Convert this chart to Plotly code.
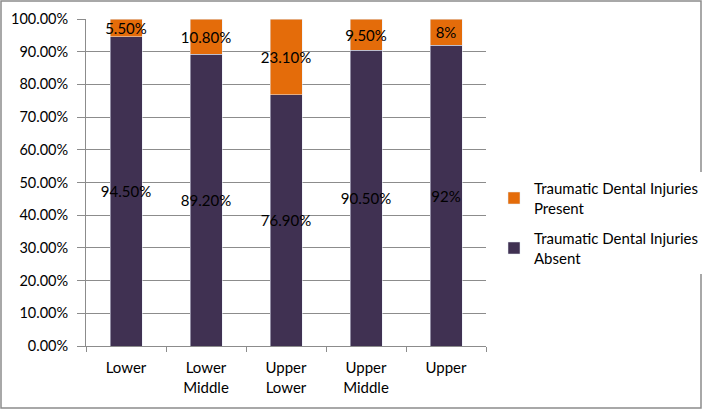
import plotly.graph_objects as go

categories = ["Lower", "Lower<br>Middle", "Upper<br>Lower", "Upper<br>Middle", "Upper"]
absent_values = [0.945, 0.892, 0.769, 0.905, 0.92]
present_values = [0.055, 0.108, 0.231, 0.095, 0.08]
absent_labels = ["94.50%", "89.20%", "76.90%", "90.50%", "92%"]
present_labels = ["5.50%", "10.80%", "23.10%", "9.50%", "8%"]
tick_values = [i / 10 for i in range(11)]

FONT = "Lato, 'Open Sans', sans-serif"

fig = go.Figure()
fig.add_trace(go.Bar(
    x=categories, y=absent_values, name="Traumatic Dental Injuries<br>Absent",
    legendgroup="absent", legendrank=2,
    marker_color="#403152", text=absent_labels, textposition="inside",
    insidetextanchor="middle", textangle=0, constraintext="none",
    textfont=dict(color="black", size=15, family=FONT),
    width=0.4, hoverinfo="skip", cliponaxis=False))
fig.add_trace(go.Bar(
    x=categories, y=present_values, name="Traumatic Dental Injuries<br>Present",
    legendgroup="present", legendrank=1,
    marker_color="#E46C0A", text=present_labels, textposition="inside",
    insidetextanchor="middle", textangle=0, constraintext="none",
    textfont=dict(color="black", size=15, family=FONT),
    width=0.4, hoverinfo="skip", cliponaxis=False))

fig.update_layout(
    barmode="stack",
    width=703, height=410,
    margin=dict(l=86, r=217, t=19, b=64, autoexpand=False),
    paper_bgcolor="white", plot_bgcolor="white",
    font=dict(family=FONT, size=14, color="black"),
    legend=dict(x=1.02, y=(346 - 172) / 327, yanchor="top", xanchor="left",
                traceorder="grouped", font=dict(size=15),
                itemwidth=30, tracegroupgap=8),
    showlegend=True,
    xaxis=dict(showline=True, linecolor="#8c8c8c", linewidth=1,
               ticks="outside", tickson="boundaries", ticklen=5, tickcolor="#8c8c8c",
               showgrid=False, tickfont=dict(size=15), automargin=False,
               ticklabelstandoff=8),
    yaxis=dict(range=[0, 1], tickvals=tick_values, tickformat=".2%",
               showgrid=True, gridcolor="#8c8c8c", gridwidth=1,
               showline=True, linecolor="#8c8c8c", linewidth=1,
               ticks="outside", ticklen=8, tickcolor="#8c8c8c",
               tickfont=dict(size=14.5), zeroline=False, automargin=False,
               ticklabelstandoff=6),
    shapes=[dict(type="rect", xref="paper", yref="paper",
                 x0=-85/400, x1=1 + 215/400, y0=-62/327, y1=1 + 18/327,
                 line=dict(color="#8c8c8c", width=1.5), fillcolor="rgba(0,0,0,0)",
                 layer="below")],
)

fig.write_html("out.html", config={"displayModeBar": False},
               post_script="document.body.style.margin='0';")
